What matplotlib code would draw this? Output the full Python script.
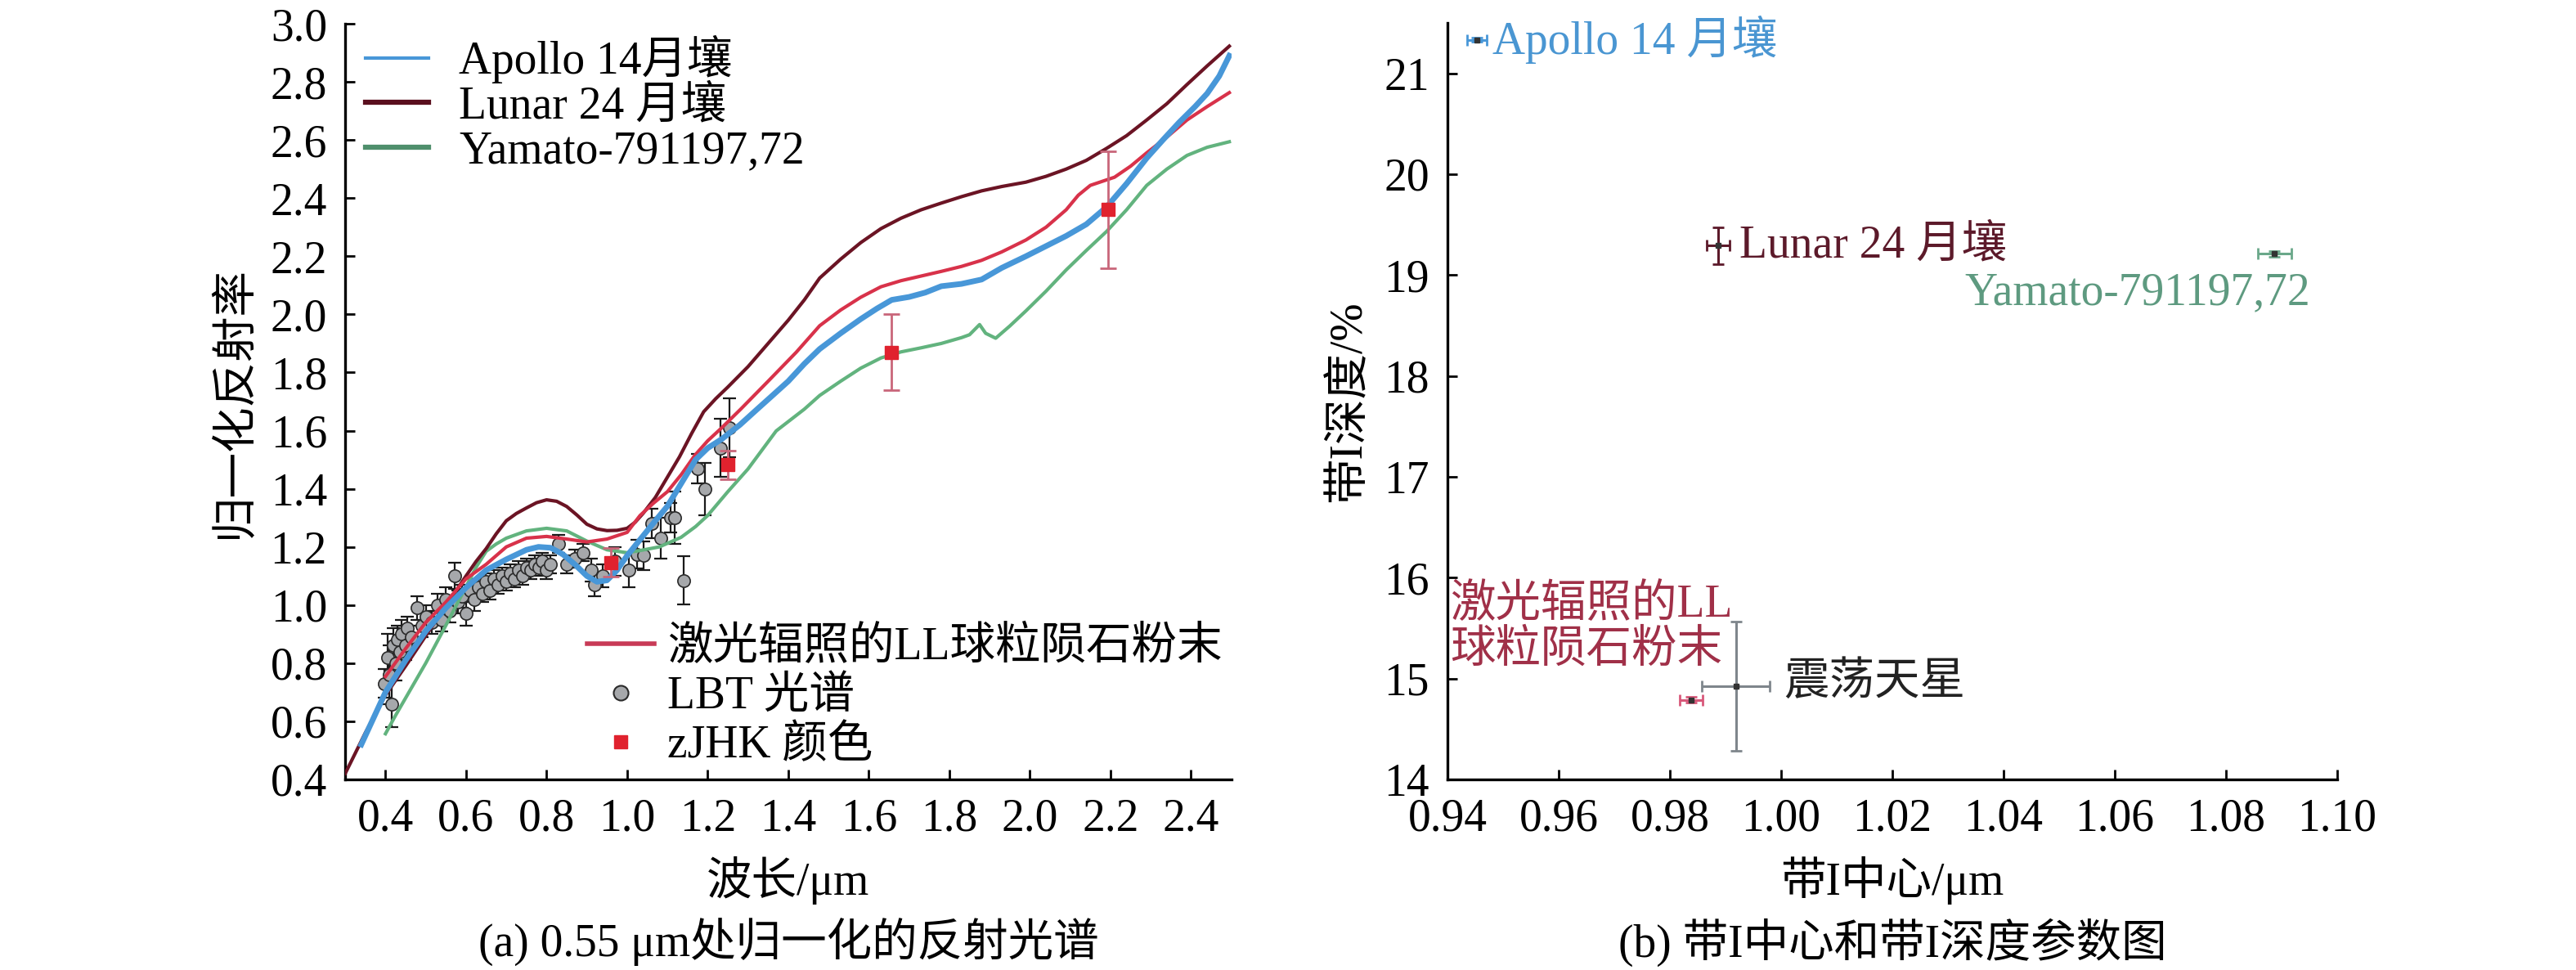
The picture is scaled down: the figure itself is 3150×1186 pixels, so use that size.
import matplotlib
matplotlib.use('Agg')
import matplotlib.pyplot as plt
from matplotlib.ticker import FormatStrFormatter

plt.rcParams['font.family'] = ['Liberation Serif', 'Noto Sans CJK SC', 'DejaVu Sans']
plt.rcParams['font.size'] = 40
plt.rcParams['axes.unicode_minus'] = False

# ---- (a) spectra ----
apollo_x = [0.34, 0.37, 0.40, 0.45, 0.50, 0.55, 0.60, 0.65, 0.70, 0.75, 0.78, 0.81, 0.84, 0.87, 0.90,
            0.925, 0.95, 0.975, 1.00, 1.035, 1.07, 1.10, 1.135, 1.17, 1.20, 1.235, 1.28, 1.323, 1.36, 1.40,
            1.44, 1.478, 1.53, 1.58, 1.62, 1.657, 1.70, 1.74, 1.78, 1.83, 1.88, 1.93, 1.99, 2.04, 2.09,
            2.14, 2.19, 2.24, 2.29, 2.33, 2.37, 2.41, 2.44, 2.47, 2.495]
apollo_y = [0.52, 0.61, 0.70, 0.81, 0.91, 0.99, 1.06, 1.12, 1.157, 1.19, 1.20, 1.197, 1.175, 1.14, 1.10,
            1.08, 1.085, 1.12, 1.17, 1.23, 1.29, 1.34, 1.42, 1.50, 1.54, 1.571, 1.62, 1.674, 1.72, 1.77,
            1.83, 1.881, 1.935, 1.984, 2.02, 2.05, 2.06, 2.075, 2.097, 2.105, 2.12, 2.16, 2.20, 2.235, 2.27,
            2.31, 2.369, 2.45, 2.538, 2.60, 2.66, 2.715, 2.76, 2.82, 2.89]

lunar_x = [0.30, 0.35, 0.40, 0.45, 0.50, 0.55, 0.60, 0.625, 0.65, 0.675, 0.70, 0.725, 0.75, 0.775, 0.80,
           0.825, 0.85, 0.875, 0.90, 0.925, 0.95, 0.975, 1.00, 1.02, 1.04, 1.07, 1.10, 1.13, 1.16, 1.19,
           1.22, 1.25, 1.30, 1.35, 1.40, 1.44, 1.478, 1.53, 1.58, 1.63, 1.68, 1.73, 1.78, 1.83, 1.88,
           1.93, 1.99, 2.04, 2.09, 2.14, 2.19, 2.24, 2.29, 2.34, 2.39, 2.44, 2.495]
lunar_y = [0.42, 0.56, 0.69, 0.79, 0.894, 0.997, 1.10, 1.15, 1.194, 1.245, 1.29, 1.315, 1.334, 1.352, 1.362,
           1.357, 1.339, 1.31, 1.278, 1.262, 1.256, 1.257, 1.264, 1.285, 1.316, 1.37, 1.44, 1.51, 1.59, 1.665,
           1.71, 1.75, 1.82, 1.90, 1.98, 2.05, 2.125, 2.19, 2.247, 2.295, 2.331, 2.36, 2.383, 2.405, 2.425,
           2.44, 2.455, 2.475, 2.50, 2.53, 2.571, 2.615, 2.669, 2.725, 2.791, 2.855, 2.923]

yamato_x = [0.40, 0.425, 0.45, 0.475, 0.50, 0.55, 0.60, 0.625, 0.65, 0.675, 0.70, 0.75, 0.80, 0.85, 0.90,
            0.95, 1.00, 1.03, 1.08, 1.134, 1.17, 1.20, 1.25, 1.30, 1.37, 1.44, 1.478, 1.53, 1.58, 1.63,
            1.68, 1.73, 1.78, 1.83, 1.85, 1.875, 1.89, 1.915, 1.95, 1.99, 2.04, 2.09, 2.14, 2.19, 2.24,
            2.29, 2.34, 2.39, 2.44, 2.495]
yamato_y = [0.557, 0.62, 0.68, 0.74, 0.80, 0.93, 1.063, 1.13, 1.185, 1.21, 1.23, 1.255, 1.264, 1.255, 1.22,
            1.19, 1.18, 1.187, 1.20, 1.233, 1.27, 1.308, 1.39, 1.468, 1.599, 1.674, 1.721, 1.77, 1.815, 1.85,
            1.871, 1.885, 1.90, 1.92, 1.93, 1.965, 1.935, 1.918, 1.96, 2.012, 2.08, 2.153, 2.22, 2.285, 2.36,
            2.444, 2.50, 2.547, 2.575, 2.594]

ll_x = [0.40, 0.45, 0.50, 0.55, 0.60, 0.65, 0.70, 0.75, 0.80, 0.85, 0.90, 0.95, 1.00, 1.032, 1.065,
        1.10, 1.135, 1.168, 1.20, 1.235, 1.282, 1.35, 1.42, 1.478, 1.53, 1.58, 1.63, 1.68, 1.73, 1.78,
        1.83, 1.88, 1.93, 1.99, 2.04, 2.09, 2.12, 2.15, 2.21, 2.25, 2.29, 2.34, 2.39, 2.44, 2.495]
ll_y = [0.754, 0.85, 0.94, 1.01, 1.09, 1.14, 1.20, 1.23, 1.236, 1.227, 1.217, 1.227, 1.25, 1.308, 1.35,
        1.39, 1.45, 1.515, 1.565, 1.61, 1.674, 1.77, 1.87, 1.961, 2.015, 2.059, 2.095, 2.116, 2.132, 2.148,
        2.165, 2.186, 2.215, 2.256, 2.30, 2.36, 2.41, 2.444, 2.472, 2.51, 2.556, 2.61, 2.669, 2.715, 2.763]

lbt_x = [0.397, 0.405, 0.41, 0.415, 0.42, 0.425, 0.43, 0.435, 0.44, 0.45, 0.455, 0.465, 0.478, 0.49, 0.50,
         0.515, 0.53, 0.54, 0.55, 0.56, 0.572, 0.58, 0.59, 0.60, 0.61, 0.62, 0.63, 0.64, 0.65, 0.66,
         0.67, 0.68, 0.69, 0.70, 0.71, 0.72, 0.73, 0.74, 0.75, 0.76, 0.77, 0.78, 0.79, 0.80, 0.81,
         0.83, 0.85, 0.87, 0.89, 0.91, 0.92, 0.94, 0.97, 1.005, 1.025, 1.04, 1.062, 1.083, 1.107, 1.117,
         1.14, 1.174, 1.194, 1.231, 1.254]
lbt_y = [0.73, 0.82, 0.76, 0.66, 0.86, 0.80, 0.88, 0.84, 0.90, 0.86, 0.92, 0.89, 0.99, 0.93, 0.96,
         0.94, 1.00, 0.95, 1.02, 0.98, 1.10, 1.01, 1.03, 0.97, 1.05, 1.02, 1.06, 1.04, 1.08, 1.05,
         1.09, 1.07, 1.10, 1.08, 1.11, 1.09, 1.12, 1.10, 1.13, 1.12, 1.14, 1.13, 1.15, 1.12, 1.14,
         1.21, 1.14, 1.16, 1.18, 1.12, 1.07, 1.10, 1.15, 1.12, 1.175, 1.17, 1.28, 1.23, 1.30, 1.30,
         1.085, 1.47, 1.40, 1.54, 1.61]
lbt_err = [0.05, 0.08, 0.10, 0.08, 0.06, 0.06, 0.05, 0.05, 0.05, 0.05, 0.04, 0.04, 0.04, 0.04, 0.04,
           0.04, 0.04, 0.04, 0.04, 0.04, 0.045, 0.04, 0.04, 0.04, 0.04, 0.04, 0.03, 0.03, 0.03, 0.03,
           0.03, 0.03, 0.03, 0.03, 0.03, 0.03, 0.03, 0.03, 0.03, 0.03, 0.03, 0.03, 0.03, 0.03, 0.03,
           0.03, 0.03, 0.03, 0.03, 0.04, 0.04, 0.04, 0.05, 0.06, 0.05, 0.05, 0.05, 0.07, 0.05, 0.09,
           0.083, 0.05, 0.09, 0.10, 0.10]

zjhk_x = [0.96, 1.25, 1.656, 2.195]
zjhk_y = [1.147, 1.482, 1.87, 2.36]
zjhk_err = [0.05, 0.05, 0.13, 0.20]

# ---- (b) band I parameters ----
names = ['Apollo 14 月壤', 'Lunar 24 月壤', 'Yamato-791197,72', '激光辐照的LL\n球粒陨石粉末', '震荡天星']
center = [0.9453, 0.9887, 1.0887, 0.9838, 0.9919]
center_err = [0.0018, 0.0021, 0.003, 0.0021, 0.0061]
depth = [21.33, 19.29, 19.21, 14.79, 14.925]
depth_err = [0.02, 0.18, 0.03, 0.03, 0.64]

c_blue = '#4897d8'
c_lunar = '#6b1424'
c_green = '#62b37e'
c_red = '#d8324a'

fig = plt.figure(figsize=(31.5, 11.86), dpi=100)
ax1 = fig.add_axes([0.134, 0.1965, 0.344, 0.779])
ax2 = fig.add_axes([0.5619, 0.1965, 0.3454, 0.78])

ax1.errorbar(lbt_x, lbt_y, yerr=lbt_err, fmt='none', ecolor='#1a1a1a', elinewidth=1.6, capsize=5.5, capthick=1.6, zorder=2)
ax1.plot(lbt_x, lbt_y, 'o', color='#a6a8ab', mec='#2a2a2a', mew=1.2, ms=11, zorder=3)
l_green, = ax1.plot(yamato_x, yamato_y, color=c_green, lw=3.0, zorder=4, label='Yamato-791197,72')
l_lunar, = ax1.plot(lunar_x, lunar_y, color=c_lunar, lw=3.0, zorder=4, label='Lunar 24 月壤')
l_red, = ax1.plot(ll_x, ll_y, color=c_red, lw=3.0, zorder=4, label='激光辐照的LL球粒陨石粉末')
l_blue, = ax1.plot(apollo_x, apollo_y, color=c_blue, lw=5.0, zorder=5, label='Apollo 14月壤')
ax1.errorbar(zjhk_x, zjhk_y, yerr=zjhk_err, fmt='none', ecolor='#c9667a', elinewidth=2.0, capsize=7, capthick=2.0, zorder=6)
sq, = ax1.plot(zjhk_x, zjhk_y, 's', color='#e0222e', ms=11, zorder=7, label='zJHK 颜色')

leg1 = ax1.legend(handles=[l_blue, l_lunar, l_green], loc='upper left', bbox_to_anchor=(0.023, 0.985),
                  frameon=False, borderpad=0, borderaxespad=0, handlelength=1.38, handletextpad=0.68,
                  labelspacing=0.05, fontsize=40)
leg1.get_lines()[0].set_linewidth(3.0)
leg1.get_lines()[1].set_linewidth(4.5)
leg1.get_lines()[1].set_color('#5a0f1e')
leg1.get_lines()[2].set_linewidth(4.5)
leg1.get_lines()[2].set_color('#4f8f6c')
ax1.add_artist(leg1)
lbt_handle, = ax1.plot([], [], 'o', color='#a6a8ab', mec='#2a2a2a', mew=1.5, ms=13)
leg2 = ax1.legend(handles=[l_red, lbt_handle, sq], labels=['激光辐照的LL球粒陨石粉末', 'LBT 光谱', 'zJHK 颜色'],
                  loc='upper left', bbox_to_anchor=(0.273, 0.202), frameon=False, borderpad=0,
                  borderaxespad=0, handlelength=1.47, handletextpad=0.3, labelspacing=0.14, fontsize=40)
leg2.get_lines()[0].set_linewidth(4.0)
leg2.get_lines()[0].set_color('#c83a56')

ax1.set_xlim(0.3, 2.5)
ax1.set_ylim(0.4, 3.0)
ax1.set_xticks([0.4, 0.6, 0.8, 1.0, 1.2, 1.4, 1.6, 1.8, 2.0, 2.2, 2.4])
ax1.set_yticks([0.4, 0.6, 0.8, 1.0, 1.2, 1.4, 1.6, 1.8, 2.0, 2.2, 2.4, 2.6, 2.8, 3.0])
ax1.xaxis.set_major_formatter(FormatStrFormatter('%.1f'))
ax1.yaxis.set_major_formatter(FormatStrFormatter('%.1f'))
ax1.set_xlabel('波长/μm', labelpad=14)
ax1.set_ylabel('归一化反射率', labelpad=12)

# (b)
pt_colors = [c_blue, '#5c1a2a', '#6aa88a', '#d8587a', '#7f868c']
txt_colors = ['#4a96d2', '#5c1a2a', '#5e9a80', '#a03048', '#222222']
for i in range(len(names)):
    ax2.errorbar(center[i], depth[i], xerr=center_err[i], yerr=depth_err[i], fmt='s', ms=4,
                 color='#333333', ecolor=pt_colors[i], elinewidth=2.2, capsize=5, capthick=2.0)
ax2.text(center[0] + 0.0028, depth[0], names[0], color=txt_colors[0], va='center', ha='left')
ax2.text(center[1] + 0.0038, depth[1], names[1], color=txt_colors[1], va='center', ha='left')
ax2.text(center[2] + 0.0064, depth[2] - 0.39, names[2], color=txt_colors[2], va='center', ha='right')
ax2.text(0.9405, 15.5, names[3], color=txt_colors[3], va='center', ha='left', linespacing=1.08)
ax2.text(center[4] + 0.0085, depth[4] + 0.035, names[4], color=txt_colors[4], va='center', ha='left')

ax2.set_xlim(0.94, 1.10)
ax2.set_ylim(14, 21.5)
ax2.set_xticks([0.94, 0.96, 0.98, 1.00, 1.02, 1.04, 1.06, 1.08, 1.10])
ax2.set_yticks([14, 15, 16, 17, 18, 19, 20, 21])
ax2.xaxis.set_major_formatter(FormatStrFormatter('%.2f'))
ax2.set_xlabel('带I中心/μm', labelpad=14)
ax2.set_ylabel('带I深度/%', labelpad=12)

for ax in (ax1, ax2):
    ax.spines['top'].set_visible(False)
    ax.spines['right'].set_visible(False)
    ax.spines['left'].set_linewidth(2.4)
    ax.spines['bottom'].set_linewidth(2.4)
    ax.tick_params(direction='in', length=8.5, width=2.0, labelsize=40)
    ax.tick_params(axis='x', pad=16)
    ax.tick_params(axis='y', pad=16)

fig.text(0.306, 1 - 1152 / 1186, '(a) 0.55 μm处归一化的反射光谱', ha='center', va='center', fontsize=40)
fig.text(0.7346, 1 - 1152 / 1186, '(b) 带I中心和带I深度参数图', ha='center', va='center', fontsize=40)

fig.savefig('out.png', dpi=100)
